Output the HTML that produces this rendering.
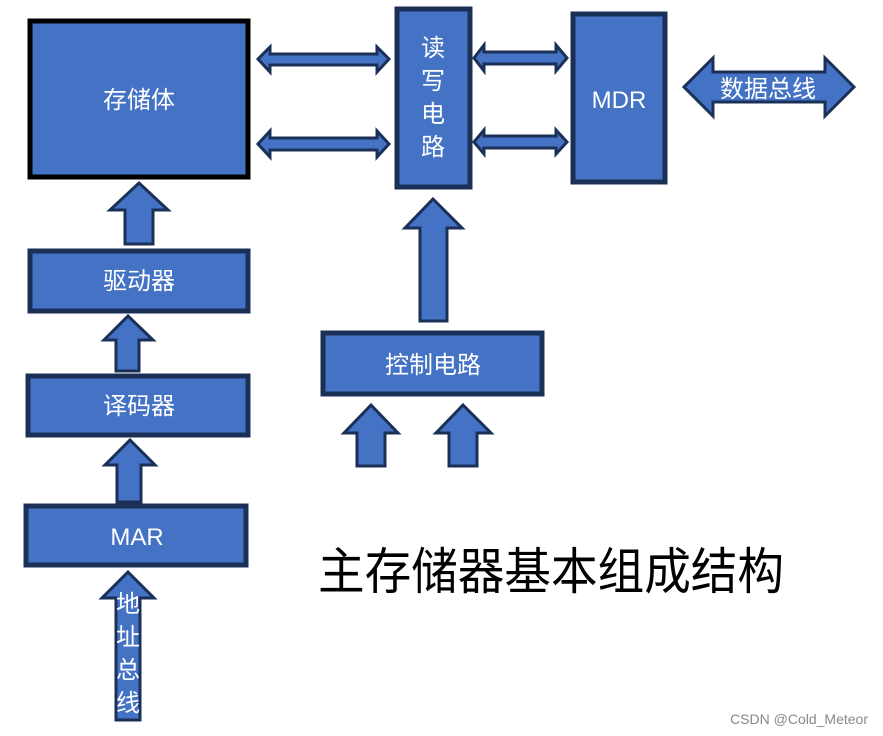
<!DOCTYPE html>
<html><head><meta charset="utf-8"><style>
html,body{margin:0;padding:0;background:#fff;}
svg{display:block;}
text{font-family:"Liberation Sans","Noto Sans CJK SC",sans-serif;}
</style></head><body>
<svg width="883" height="736" viewBox="0 0 883 736" xmlns="http://www.w3.org/2000/svg">
<g fill="#4472C4" stroke="#1B3057" stroke-width="4">
<!-- boxes -->
<rect x="30" y="21" width="218" height="156" stroke="#000" stroke-width="5"/>
<rect x="397" y="9" width="73" height="178" stroke-width="5"/>
<rect x="573" y="14" width="92" height="168" stroke-width="5"/>
<rect x="30" y="251" width="218" height="60" stroke-width="5"/>
<rect x="28" y="376" width="220" height="59" stroke-width="5"/>
<rect x="26" y="506" width="220" height="59" stroke-width="5"/>
<rect x="323" y="333" width="219" height="61" stroke-width="5"/>
<!-- double arrows -->
<path stroke-width="3" d="M258 59 L270 47 L270 54 L377 54 L377 47 L389 59 L377 72 L377 65 L270 65 L270 72 Z"/>
<path stroke-width="3" d="M258 144 L270 131 L270 138 L377 138 L377 131 L389 144 L377 157 L377 150 L270 150 L270 157 Z"/>
<path stroke-width="3" d="M474 58 L484 45 L484 52 L556 52 L556 45 L567 58 L556 71 L556 64 L484 64 L484 71 Z"/>
<path stroke-width="3" d="M474 142 L484 130 L484 136 L556 136 L556 130 L567 142 L556 154 L556 148 L484 148 L484 154 Z"/>
<path stroke-width="3" d="M684 87 L713 58 L713 72 L825 72 L825 58 L854 87 L825 116 L825 102 L713 102 L713 116 Z"/>
<!-- up arrows -->
<path stroke-width="3" d="M139 183 L168 210 L153 210 L153 244 L125 244 L125 210 L110 210 Z"/>
<path stroke-width="3" d="M128 316 L153 340 L139 340 L139 371 L116 371 L116 340 L104 340 Z"/>
<path stroke-width="3" d="M130 440 L155 465 L141 465 L141 502 L117 502 L117 465 L105 465 Z"/>
<path stroke-width="3" d="M128 572 L154 598 L140 598 L140 720 L116 720 L116 598 L102 598 Z"/>
<path stroke-width="3" d="M433 199 L462 228 L447 228 L447 321 L420 321 L420 228 L405 228 Z"/>
<path stroke-width="3" d="M371 405 L398 433 L385 433 L385 466 L357 466 L357 433 L344 433 Z"/>
<path stroke-width="3" d="M463 405 L491 433 L477 433 L477 466 L449 466 L449 433 L436 433 Z"/>
</g>
<g fill="#fff" font-size="24" text-anchor="middle">
<text x="139" y="108">存储体</text>
<text x="139" y="289">驱动器</text>
<text x="139" y="414">译码器</text>
<text x="137" y="545">MAR</text>
<text x="433" y="373">控制电路</text>
<text x="619" y="108">MDR</text>
<text x="768" y="97">数据总线</text>
<text x="433" y="56">读</text>
<text x="433" y="89">写</text>
<text x="433" y="122">电</text>
<text x="433" y="155">路</text>
<text x="128" y="612">地</text>
<text x="128" y="645">址</text>
<text x="128" y="678">总</text>
<text x="128" y="711">线</text>
</g>
<text x="318" y="589" font-size="50" fill="#000" textLength="466" lengthAdjust="spacingAndGlyphs">主存储器基本组成结构</text>
<text x="868" y="724" font-size="14" fill="#888" text-anchor="end">CSDN @Cold_Meteor</text>
</svg>
</body></html>
